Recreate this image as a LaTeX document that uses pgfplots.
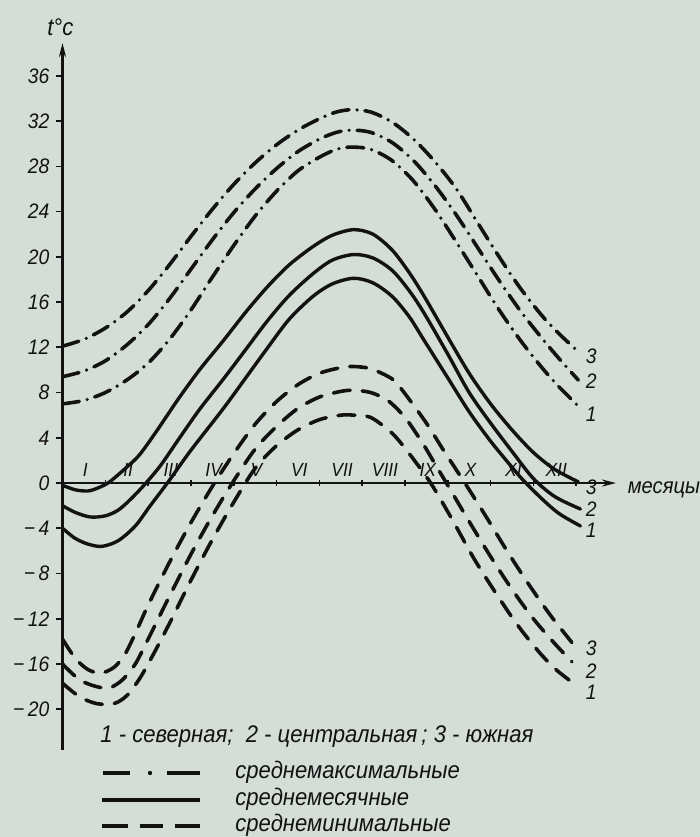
\documentclass[border=0pt]{standalone}
\usepackage{fontspec}
\setmainfont{Liberation Sans}[FakeStretch=0.92]
\usepackage{pgfplots}
\pgfplotsset{compat=1.18}
\usetikzlibrary{arrows.meta}
\definecolor{paper}{HTML}{D5DED6}
\definecolor{ink}{HTML}{121212}
\tikzset{
 maxline/.style={ink,line width=1.8pt,line cap=round,dash pattern=on 8.5pt off 4pt on 0pt off 4pt},
 meanline/.style={ink,line width=1.7pt,line cap=round},
 minline/.style={ink,line width=1.8pt,line cap=round,dash pattern=on 8.5pt off 6pt},
 crv/.style={font=\itshape\fontsize{10.5}{10.5}\selectfont,text=ink,inner sep=0pt}}
\begin{document}
\begin{tikzpicture}
\path[use as bounding box,fill=paper] (0,0) rectangle (350pt,418.5pt);
\begin{axis}[at={(31.25pt,43.5pt)},anchor=south west,scale only axis,
 width=276.75pt,height=353.5pt,
 xmin=0,xmax=12.93,ymin=-23.6,ymax=38.9,
 axis x line=middle,axis y line=left,clip=false,
 axis line style={ink,line width=1.4pt},
 x axis line style={-{Stealth[length=7pt,width=3.5pt]}},
 y axis line style={-{Stealth[length=7pt,width=3.5pt]}},
 xtick={1,...,12},
 xticklabels={I,II,III,IV,V,VI,VII,VIII,IX,X,XI,XII},
 xticklabel style={font=\itshape\fontsize{9.5}{10}\selectfont,text=ink,anchor=south,xshift=-10pt,yshift=1pt},
 xtick align=center,
 ytick={-20,-16,...,36},
 yticklabels={−\,20,−\,16,−\,12,−\,8,−\,4,0,4,8,12,16,20,24,28,32,36},
 yticklabel style={font=\itshape\fontsize{10.5}{11}\selectfont,text=ink},
 ytick align=outside,
 tick style={ink,line width=0.8pt},major tick length=3pt]

% среднемаксимальные
\addplot[maxline,smooth] coordinates {(0,12.1)(0.5,12.7)(1.0,13.7)(1.5,15.1)(2.0,17.0)(2.5,19.3)(3.0,21.8)(3.5,24.2)(4.0,26.4)(4.5,28.3)(5.0,29.9)(5.5,31.2)(6.0,32.2)(6.4,32.8)(6.75,33.0)(7.2,32.8)(7.7,31.9)(8.2,30.4)(8.7,28.4)(9.2,26.0)(9.7,23.0)(10.2,20.0)(10.7,17.2)(11.2,14.8)(11.6,13.2)(12.05,11.6)};
\addplot[maxline,smooth] coordinates {(0,9.4)(0.5,9.9)(1.0,10.8)(1.5,12.2)(2.0,14.0)(2.5,16.3)(3.0,18.9)(3.5,21.5)(4.0,23.9)(4.5,26.0)(5.0,27.8)(5.5,29.3)(6.0,30.4)(6.4,31.0)(6.75,31.2)(7.2,31.0)(7.7,30.1)(8.2,28.5)(8.7,26.3)(9.2,23.7)(9.7,20.8)(10.2,17.9)(10.7,15.2)(11.2,12.8)(11.6,11.0)(12.05,9.1)};
\addplot[maxline,smooth] coordinates {(0,7.0)(0.5,7.3)(1.0,8.0)(1.5,9.1)(2.0,10.6)(2.5,12.7)(3.0,15.3)(3.5,18.2)(4.0,21.0)(4.5,23.6)(5.0,25.8)(5.5,27.6)(6.0,28.8)(6.4,29.5)(6.75,29.7)(7.2,29.5)(7.7,28.5)(8.2,26.7)(8.7,24.2)(9.2,21.3)(9.7,18.3)(10.2,15.3)(10.7,12.6)(11.2,10.2)(11.6,8.5)(12.05,6.8)};

% среднемесячные
\addplot[meanline,smooth] coordinates {(0,-0.2)(0.3,-0.6)(0.6,-0.7)(0.85,-0.4)(1.1,0.1)(1.5,1.4)(1.8,2.5)(2.2,4.6)(2.7,7.4)(3.2,10.0)(3.76,12.6)(4.3,15.2)(4.8,17.4)(5.3,19.3)(5.85,20.9)(6.3,21.9)(6.8,22.4)(7.25,22.0)(7.7,20.6)(8.1,18.6)(8.45,16.5)(9.0,12.9)(9.5,9.7)(10.0,7.0)(10.5,4.7)(11.0,2.7)(11.5,1.2)(12.05,0.1)};
\addplot[meanline,smooth] coordinates {(0,-2.0)(0.3,-2.6)(0.65,-3.0)(1.0,-2.9)(1.3,-2.4)(1.6,-1.4)(1.95,0)(2.3,1.6)(2.7,3.8)(3.2,6.5)(3.76,9.2)(4.3,11.9)(4.8,14.4)(5.3,16.6)(5.85,18.5)(6.3,19.7)(6.8,20.2)(7.25,19.9)(7.7,18.8)(8.1,17.0)(8.45,15.0)(9.0,11.4)(9.5,8.0)(10.0,5.3)(10.5,2.8)(11.0,0.4)(11.5,-1.2)(12.1,-2.3)};
\addplot[meanline,smooth] coordinates {(0,-4.0)(0.3,-4.9)(0.6,-5.4)(0.92,-5.6)(1.3,-5.1)(1.7,-3.8)(2.05,-2.0)(2.45,0)(3.0,2.9)(3.76,6.6)(4.3,9.4)(4.8,12.0)(5.3,14.5)(5.85,16.5)(6.3,17.6)(6.8,18.1)(7.25,17.7)(7.7,16.5)(8.1,14.7)(8.45,12.6)(9.0,9.3)(9.5,6.3)(10.0,3.7)(10.5,1.4)(10.75,0.3)(11.2,-1.4)(11.6,-2.7)(12.1,-3.8)};

% среднеминимальные
\addplot[minline,smooth] coordinates {(0,-13.8)(0.3,-15.5)(0.6,-16.5)(0.9,-16.8)(1.2,-16.3)(1.45,-15.2)(1.7,-13.3)(2.0,-10.8)(2.5,-7.0)(3.0,-3.5)(3.5,-0.3)(4.0,2.6)(4.5,5.2)(5.0,7.2)(5.5,8.7)(6.0,9.7)(6.5,10.2)(6.8,10.3)(7.2,10.1)(7.7,9.2)(8.0,7.9)(8.5,5.3)(8.9,2.9)(9.4,0)(9.9,-3.0)(10.4,-6.1)(10.9,-9.0)(11.4,-11.7)(11.9,-14.1)};
\addplot[minline,smooth] coordinates {(0,-16.0)(0.4,-17.4)(0.8,-18.0)(1.1,-18.1)(1.4,-17.4)(1.7,-16.0)(2.0,-13.8)(2.5,-10.0)(3.0,-6.3)(3.5,-2.9)(4.0,0.2)(4.5,3.0)(5.0,5.0)(5.5,6.6)(6.0,7.6)(6.5,8.1)(6.8,8.2)(7.2,8.0)(7.6,7.3)(8.0,5.8)(8.4,3.6)(8.7,1.7)(9.0,-0.2)(9.5,-3.4)(10.0,-6.5)(10.5,-9.4)(11.0,-12.0)(11.5,-14.2)(11.9,-15.8)};
\addplot[minline,smooth] coordinates {(0,-17.7)(0.4,-18.9)(0.8,-19.5)(1.2,-19.5)(1.5,-18.8)(1.8,-17.3)(2.1,-15.3)(2.5,-12.4)(3.0,-8.6)(3.5,-5.0)(4.0,-1.7)(4.5,1.3)(5.0,3.3)(5.5,4.7)(6.0,5.6)(6.5,6.0)(6.8,6.0)(7.2,5.8)(7.7,4.4)(8.1,2.6)(8.6,0)(9.1,-3.2)(9.6,-6.6)(10.1,-9.6)(10.6,-12.4)(11.1,-14.8)(11.5,-16.4)(11.9,-17.6)};

% curve numbers
\node[crv] at (axis cs:12.35,11.2) {3};
\node[crv] at (axis cs:12.35,9.0) {2};
\node[crv] at (axis cs:12.35,6.1) {1};
\node[crv] at (axis cs:12.35,-0.4) {3};
\node[crv] at (axis cs:12.35,-2.3) {2};
\node[crv] at (axis cs:12.35,-4.2) {1};
\node[crv] at (axis cs:12.35,-14.6) {3};
\node[crv] at (axis cs:12.35,-16.6) {2};
\node[crv] at (axis cs:12.35,-18.5) {1};

\node[font=\itshape\fontsize{11}{11}\selectfont,text=ink,anchor=mid] at (axis cs:14.05,-0.45) {месяцы};
\node[font=\itshape\fontsize{12}{12}\selectfont,text=ink] at (axis cs:-0.05,40.3) {t°c};
\end{axis}

% legend
\begin{scope}[every node/.style={font=\itshape\fontsize{12}{12}\selectfont,text=ink,anchor=mid west,inner sep=0pt}]
\node at (50pt,50pt) {1 - северная;\ \ 2 - центральная\,;\ 3 - южная};
\draw[ink,line width=2pt] (51.5pt,32pt) -- (65pt,32pt);
\fill[ink] (75pt,32pt) circle (1.1pt);
\draw[ink,line width=2pt] (83.5pt,32pt) -- (100pt,32pt);
\node at (117.5pt,32pt) {среднемаксимальные};
\draw[ink,line width=2pt] (51pt,18.5pt) -- (100pt,18.5pt);
\node at (117.5pt,18.5pt) {среднемесячные};
\draw[ink,line width=2pt] (51pt,5.5pt) -- (64pt,5.5pt);
\draw[ink,line width=2pt] (70pt,5.5pt) -- (81.5pt,5.5pt);
\draw[ink,line width=2pt] (87.5pt,5.5pt) -- (100pt,5.5pt);
\node at (117.5pt,5.5pt) {среднеминимальные};
\end{scope}
\end{tikzpicture}
\end{document}
